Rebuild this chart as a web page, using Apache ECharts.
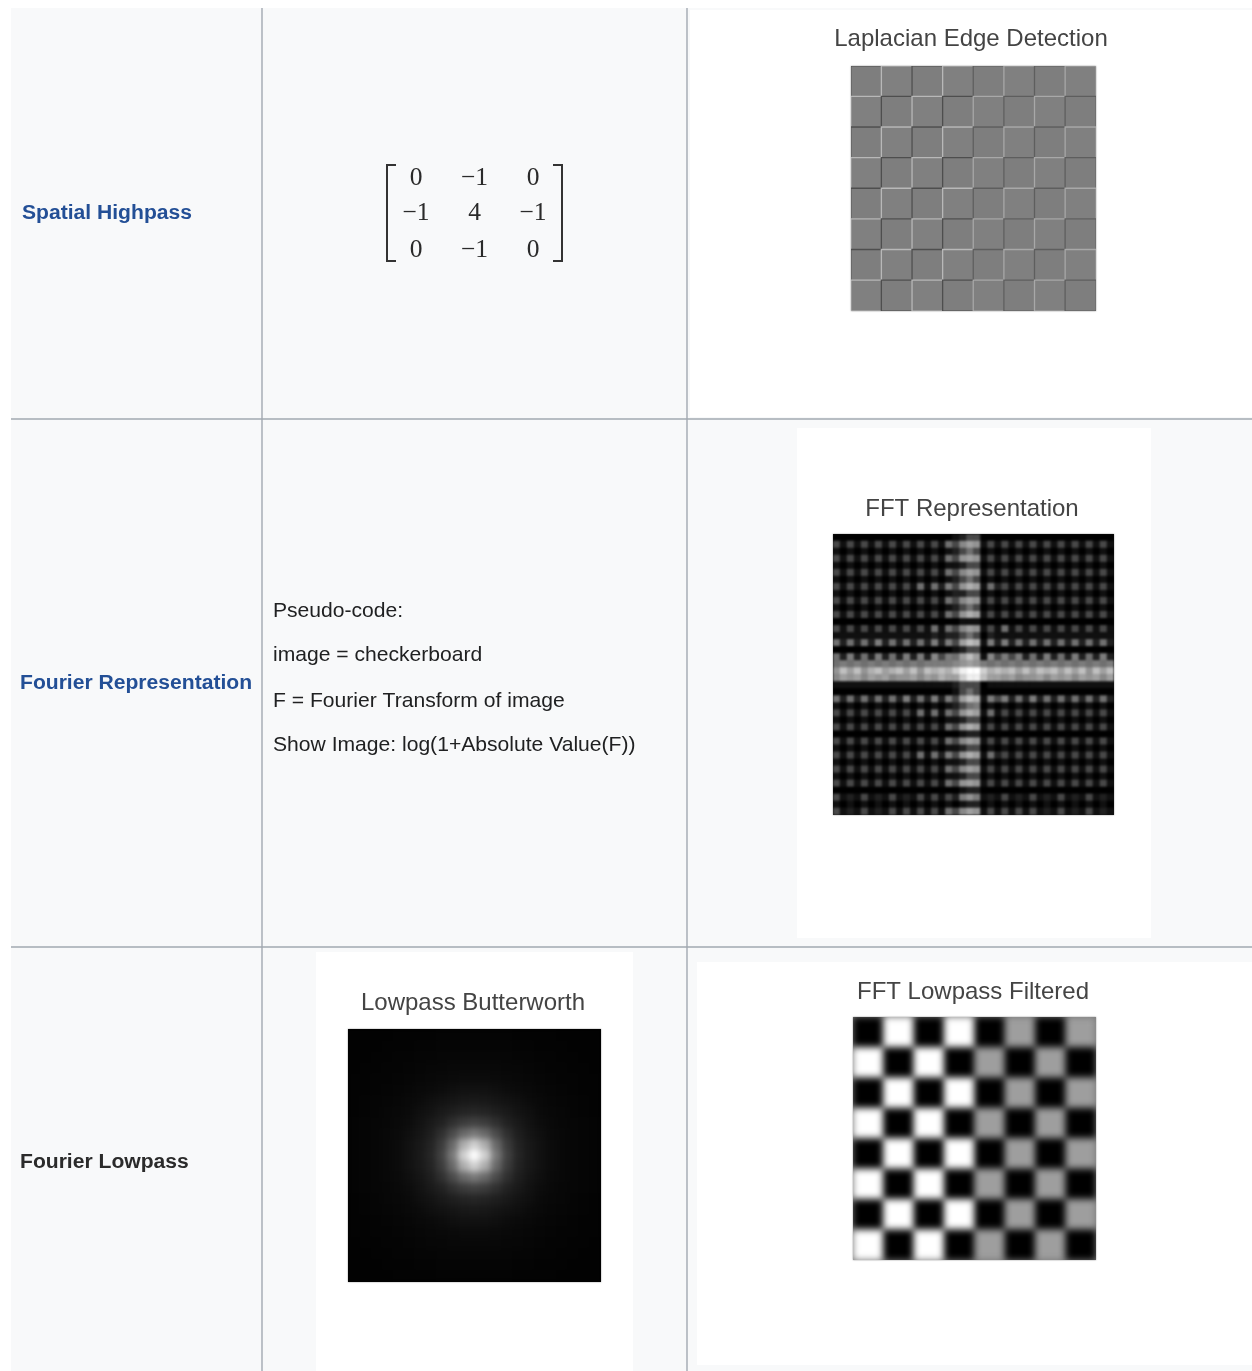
<!DOCTYPE html>
<html>
<head>
<meta charset="utf-8">
<script src="https://cdn.jsdelivr.net/npm/echarts@6/dist/echarts.min.js"></script>
<style>
html,body{margin:0;padding:0;background:#fff;}
#stage{position:relative;width:1252px;height:1371px;overflow:hidden;}
#main{position:absolute;left:0;top:0;width:1252px;height:1371px;filter:blur(0.6px);}
.img{position:absolute;overflow:hidden;box-shadow:0 0 1.5px #888;}
.img>div{position:absolute;left:0;top:0;width:100%;height:100%;}
</style>
</head>
<body>
<div id="stage">
  <div id="main"></div>
  <div class="img" style="left:851px;top:66px;width:245px;height:245px;background:#808080"><div id="lap" style="filter:blur(.7px)"></div></div>
  <div class="img" style="left:833px;top:534px;width:281px;height:281px;background:#111"><div id="fft" style="filter:blur(1.1px)"></div></div>
  <div class="img" style="left:348px;top:1029px;width:253px;height:253px;background:#000"><div id="but" style="filter:blur(3px)"></div></div>
  <div class="img" style="left:853px;top:1017px;width:243px;height:243px;background:#777"><div id="chk" style="filter:blur(3.8px)"></div></div>
</div>
<script>
// ---- table text ----
var rowLabels = ['Spatial Highpass', 'Fourier Representation', 'Fourier Lowpass'];
var pseudoCode = ['Pseudo-code:', 'image = checkerboard', 'F = Fourier Transform of image', 'Show Image: log(1+Absolute Value(F))'];
var imageTitles = ['Laplacian Edge Detection', 'FFT Representation', 'Lowpass Butterworth', 'FFT Lowpass Filtered'];
var kernel = [['0', '\u22121', '0'], ['\u22121', '4', '\u22121'], ['0', '\u22121', '0']];

// ---- image data ----
var laplacianParity = [
  [0,1,0,1,0,1,0,1],[1,0,1,0,1,0,1,0],[0,1,0,1,0,1,0,1],[1,0,1,0,1,0,1,0],
  [0,1,0,1,0,1,0,1],[1,0,1,0,1,0,1,0],[0,1,0,1,0,1,0,1],[1,0,1,0,1,0,1,0]
];
var lowpassFiltered = [
  [0,1,0,1,0,.62,0,.62],[1,0,1,0,.62,0,.62,0],[0,1,0,1,0,.62,0,.62],[1,0,1,0,.62,0,.62,0],
  [0,1,0,1,0,.62,0,.62],[1,0,1,0,.62,0,.62,0],[0,1,0,1,0,.62,0,.62],[1,0,1,0,.62,0,.62,0]
];
var fftRows = [
'0000000000000000012330000000000000000000',
'3131313131313131436871313131313131313131',
'1010101010101010123430101010101010101010',
'3131313131313131437871313131313131313131',
'1010101010101010112330101010101010101010',
'3131313131313131436871313131313131313131',
'1010101010101010123430101010101010101010',
'3131313131314142537981423131313131313131',
'1010101010101010122330101010101010101010',
'3131313131313131436871313131313131313131',
'1010101010101010123430101010101010101010',
'3131313131313131437981313131313131313131',
'0000000000000000001110000000000000000000',
'3131313131313141436871314131313131313131',
'1111111111111121223430211111111111111111',
'4242425242424252538a91525242424242424242',
'0000000000000000012330000000000000000000',
'4252425242525263548a81635352425242524252',
'4545454545454555567875454545454545454545',
'7a8a79a89a8a7a9a9bdeeb9a9a8a8a9a8a8a7a8a',
'687868786778687988bdda887867786878687868',
'1111111111111111123330111111111111111111',
'0000000000000000013430000000000000000000',
'4242424242524252538a91535242524242424242',
'1010101010101010123450101010101010101010',
'3131313131314141437981413131313131313131',
'1010101010101010112330101010101010101010',
'3131313131313131437981313131313131313131',
'0000000000000000001220000000000000000000',
'3131313131313131436871313131313131313131',
'1010101010101010112330101010101010101010',
'3131313131314142537981423131313131313131',
'1010101010101010112330101010101010101010',
'3131313131313131436871313131313131313131',
'1010101010101010112330101010101010101010',
'3131313131313131437871313131313131313131',
'0000000000000000001220000000000000000000',
'3121312131213131325751213121312131213121',
'1010101010101010101220101010101010101010',
'3121312131313131436871313131312131213121'
];
var butterworth = [
[2,2,2,2,3,3,3,3,4,4,4,4,4,4,4,3,3,3,3,2,2,2,2],
[2,2,2,3,3,3,4,4,5,5,5,5,5,5,5,4,4,3,3,3,2,2,2],
[2,2,3,3,4,4,5,5,6,6,6,6,6,6,6,5,5,4,4,3,3,2,2],
[2,3,3,4,4,5,6,7,7,8,8,8,8,8,7,7,6,5,4,4,3,3,2],
[3,3,4,4,5,6,7,8,9,10,11,11,11,10,9,8,7,6,5,4,4,3,3],
[3,3,4,5,6,7,9,10,12,14,16,16,16,14,12,10,9,7,6,5,4,3,3],
[3,4,5,6,7,9,11,14,17,20,23,24,23,20,17,14,11,9,7,6,5,4,3],
[3,4,5,7,8,10,14,18,24,29,34,36,34,29,24,18,14,10,8,7,5,4,3],
[4,5,6,7,9,12,17,24,32,45,57,62,57,45,32,24,17,12,9,7,6,5,4],
[4,5,6,8,10,14,20,29,45,70,100,115,100,70,45,29,20,14,10,8,6,5,4],
[4,5,6,8,11,16,23,34,57,100,165,200,165,100,57,34,23,16,11,8,6,5,4],
[4,5,6,8,11,16,24,36,62,115,200,255,200,115,62,36,24,16,11,8,6,5,4],
[4,5,6,8,11,16,23,34,57,100,165,200,165,100,57,34,23,16,11,8,6,5,4],
[4,5,6,8,10,14,20,29,45,70,100,115,100,70,45,29,20,14,10,8,6,5,4],
[4,5,6,7,9,12,17,24,32,45,57,62,57,45,32,24,17,12,9,7,6,5,4],
[3,4,5,7,8,10,14,18,24,29,34,36,34,29,24,18,14,10,8,7,5,4,3],
[3,4,5,6,7,9,11,14,17,20,23,24,23,20,17,14,11,9,7,6,5,4,3],
[3,3,4,5,6,7,9,10,12,14,16,16,16,14,12,10,9,7,6,5,4,3,3],
[3,3,4,4,5,6,7,8,9,10,11,11,11,10,9,8,7,6,5,4,4,3,3],
[2,3,3,4,4,5,6,7,7,8,8,8,8,8,7,7,6,5,4,4,3,3,2],
[2,2,3,3,4,4,5,5,6,6,6,6,6,6,6,5,5,4,4,3,3,2,2],
[2,2,2,3,3,3,4,4,5,5,5,5,5,5,5,4,4,3,3,3,2,2,2],
[2,2,2,2,3,3,3,3,4,4,4,4,4,4,4,3,3,3,3,2,2,2,2]
];

function idx(n){var a=[];for(var i=0;i<n;i++)a.push(i);return a;}
function toCells(rows){
  var out=[];
  rows.forEach(function(r,y){for(var x=0;x<r.length;x++){out.push([x,y,r[x]]);}});
  return out;
}
function heat(id,rows,max,colors,mapItem){
  var n=rows.length,m=rows[0].length;
  var cells=toCells(rows);
  if(mapItem)cells=cells.map(mapItem);
  var c=echarts.init(document.getElementById(id));
  c.setOption({
    animation:false,
    grid:{left:0,right:0,top:0,bottom:0},
    xAxis:{type:'category',data:idx(m),show:false},
    yAxis:{type:'category',data:idx(n),show:false,inverse:true},
    visualMap:{show:false,min:0,max:max,dimension:2,inRange:{color:colors}},
    series:[{type:'heatmap',data:cells,silent:true,itemStyle:{borderWidth:0}}]
  });
  return c;
}
heat('chk',lowpassFiltered,1,['#000000','#ffffff']);
heat('but',butterworth,245,['#000000','#ffffff']);
heat('fft',fftRows.map(function(s){return s.split('').map(function(h){return parseInt(h,16);});}),14,['#000000','#202020','#707070','#888888','#a0a0a0','#c0c0c0','#e0e0e0','#ffffff']);
heat('lap',laplacianParity,1,['#7e7e7e','#808080'],function(d){
  var right=d[0]>=4;
  var col=d[2]?(right?'#a8a8a8':'#b8b8b8'):(right?'#5e5e5e':'#4e4e4e');
  return {value:d,itemStyle:{borderColor:col,borderWidth:1.3}};
});

// ---- page / table ----
var cellBg='#f8f9fa', rule='#a2a9b1', ink='#202122', link='#234f96', soft='#444444';
function rect(x,y,w,h,fill){return {type:'rect',shape:{x:x,y:y,width:w,height:h},style:{fill:fill},silent:true};}
function line(x1,y1,x2,y2){return {type:'line',shape:{x1:x1,y1:y1,x2:x2,y2:y2},style:{stroke:rule,lineWidth:1.4},silent:true};}
function txt(s,x,y,font,fill,align){return {type:'text',x:x,y:y,style:{text:s,font:font,fill:fill,textAlign:align||'left',textVerticalAlign:'middle'},silent:true};}
var bold='bold 21.1px "Liberation Sans", Arial, sans-serif';
var reg='21.1px "Liberation Sans", Arial, sans-serif';
var head='24px "Liberation Sans", Arial, sans-serif';
var serif='25.5px "Liberation Serif", serif';
var matX=[416,474.5,533], matY=[178,213.5,250];
var g=[
  rect(11,8,1241,1363,cellBg),
  rect(690,10,562,407,'#ffffff'),
  rect(797,428,354,510,'#ffffff'),
  rect(316,952,317,419,'#ffffff'),
  rect(697,962,555,403,'#ffffff'),
  line(262,8,262,1371),line(687,8,687,1371),line(11,419,1252,419),line(11,947,1252,947),
  txt(rowLabels[0],22,213,bold,link),
  txt(rowLabels[1],20,683,bold,link),
  txt(rowLabels[2],20,1162,bold,'#2b2b2b'),
  txt(pseudoCode[0],273,611,reg,ink),
  txt(pseudoCode[1],273,655,reg,ink),
  txt(pseudoCode[2],273,701,reg,ink),
  txt(pseudoCode[3],273,745,reg,ink),
  txt(imageTitles[0],971,39,head,soft,'center'),
  txt(imageTitles[1],972,509,head,soft,'center'),
  txt(imageTitles[2],473,1003,head,soft,'center'),
  txt(imageTitles[3],973,992,head,soft,'center'),
  {type:'polyline',shape:{points:[[396,165],[387,165],[387,261],[396,261]]},style:{stroke:'#333',lineWidth:2,fill:null},silent:true},
  {type:'polyline',shape:{points:[[553,165],[562,165],[562,261],[553,261]]},style:{stroke:'#333',lineWidth:2,fill:null},silent:true}
];
kernel.forEach(function(r,j){r.forEach(function(v,i){g.push(txt(v,matX[i],matY[j],serif,'#2a2a2a','center'));});});
var main=echarts.init(document.getElementById('main'));
main.setOption({animation:false,graphic:{elements:g}});
</script>
</body>
</html>
